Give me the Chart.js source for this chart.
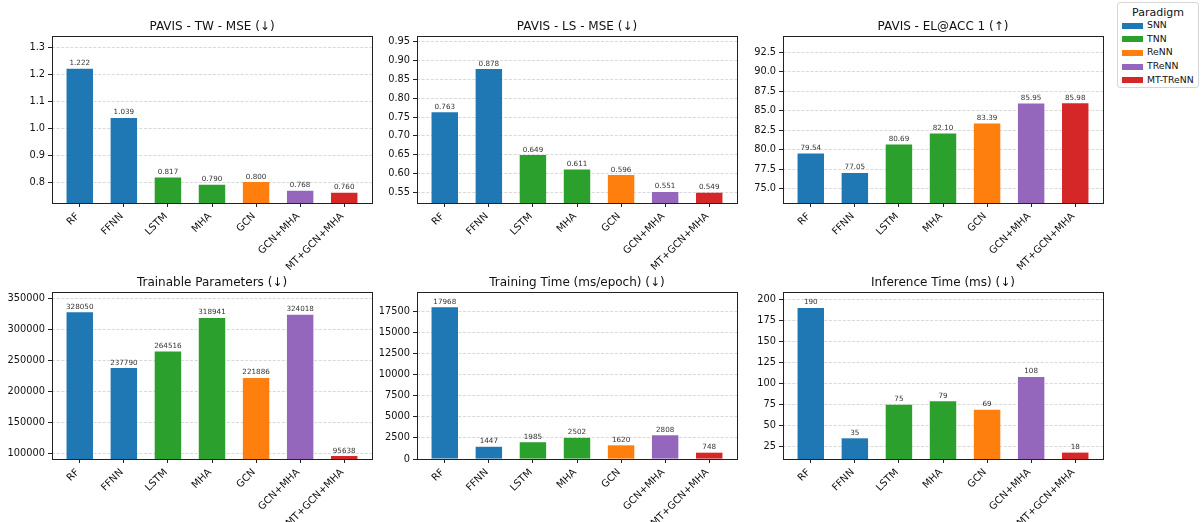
<!DOCTYPE html>
<html>
<head>
<meta charset="utf-8">
<script src="https://cdn.jsdelivr.net/npm/chart.js@4.4.1/dist/chart.umd.min.js"></script>
<style>
  body { margin: 0; background: #fff; width: 1203px; height: 522px; overflow: hidden; position: relative; font-family: 'DejaVu Sans', sans-serif; }
  canvas { position: absolute; }
  #legend { position: absolute; left: 1117px; top: 2px; width: 82px; height: 86px; border: 1px solid #d6d6d6; border-radius: 3px; box-sizing: border-box; background: #fff; }
  #legend .title { position: absolute; left: 0; width: 100%; top: 3px; text-align: center; font-size: 11px; color: #111; }
  #legend .sw { position: absolute; left: 4px; width: 21px; height: 6px; }
  #legend .lb { position: absolute; left: 29px; font-size: 9.3px; color: #111; line-height: 10px; }
</style>
</head>
<body>
<div id="legend"><div class="title">Paradigm</div></div>
<script>
// models and which paradigm each one belongs to
const models = ['RF', 'FFNN', 'LSTM', 'MHA', 'GCN', 'GCN+MHA', 'MT+GCN+MHA'];
const paradigms = ['SNN', 'TNN', 'ReNN', 'TReNN', 'MT-TReNN'];
const paradigmColors = ['#1f77b4', '#2ca02c', '#ff7f0e', '#9467bd', '#d62728'];
const modelParadigm = ['SNN', 'SNN', 'TNN', 'TNN', 'ReNN', 'TReNN', 'MT-TReNN'];

// metric values, one per model
const twMse = [1.222, 1.039, 0.817, 0.790, 0.800, 0.768, 0.760];
const lsMse = [0.763, 0.878, 0.649, 0.611, 0.596, 0.551, 0.549];
const elAcc1 = [79.54, 77.05, 80.69, 82.10, 83.39, 85.95, 85.98];
const trainableParams = [328050, 237790, 264516, 318941, 221886, 324018, 95638];
const trainingTime = [17968, 1447, 1985, 2502, 1620, 2808, 748];
const inferenceTime = [190, 35, 75, 79, 69, 108, 18];

// y tick labels
const twTicks = [0.8, 0.9, 1.0, 1.1, 1.2, 1.3];
const lsTicks = [0.55, 0.60, 0.65, 0.70, 0.75, 0.80, 0.85, 0.90, 0.95];
const elTicks = [75.0, 77.5, 80.0, 82.5, 85.0, 87.5, 90.0, 92.5];
const paramTicks = [100000, 150000, 200000, 250000, 300000, 350000];
const trainTicks = [0, 2500, 5000, 7500, 10000, 12500, 15000, 17500];
const inferTicks = [25, 50, 75, 100, 125, 150, 175, 200];

const panels = [
  { title: 'PAVIS - TW - MSE (\u2193)', values: twMse, ticks: twTicks, yMin: 0.722, yMax: 1.344, dec: 3, tickDec: 1 },
  { title: 'PAVIS - LS - MSE (\u2193)', values: lsMse, ticks: lsTicks, yMin: 0.5216, yMax: 0.9658, dec: 3, tickDec: 2 },
  { title: 'PAVIS - EL@ACC 1 (\u2191)', values: elAcc1, ticks: elTicks, yMin: 73.2, yMax: 94.58, dec: 2, tickDec: 1 },
  { title: 'Trainable Parameters (\u2193)', values: trainableParams, ticks: paramTicks, yMin: 90856, yMax: 360855, dec: 0, tickDec: 0 },
  { title: 'Training Time (ms/epoch) (\u2193)', values: trainingTime, ticks: trainTicks, yMin: 0, yMax: 19765, dec: 0, tickDec: 0 },
  { title: 'Inference Time (ms) (\u2193)', values: inferenceTime, ticks: inferTicks, yMin: 10.4, yMax: 209, dec: 0, tickDec: 0 }
];

const FONT = "'DejaVu Sans', sans-serif";
const colLeft = [52, 417, 783];
const AXIS_W = 60;
const PLOT_W = 320;

// legend
const leg = document.getElementById('legend');
paradigms.forEach((p, i) => {
  const cy = 22.5 + i * 13.7;
  const sw = document.createElement('div');
  sw.className = 'sw';
  sw.style.top = (cy - 3) + 'px';
  sw.style.background = paradigmColors[i];
  leg.appendChild(sw);
  const lb = document.createElement('div');
  lb.className = 'lb';
  lb.style.top = (cy - 5.5) + 'px';
  lb.textContent = p;
  leg.appendChild(lb);
});

function makePanel(p, i) {
  const row = Math.floor(i / 3), col = i % 3;
  const c = document.createElement('canvas');
  const h = row === 0 ? 270 : 266;
  const xH = row === 0 ? 67 : 63;
  c.width = AXIS_W + PLOT_W + 10;
  c.height = h;
  c.style.left = (colLeft[col] - AXIS_W) + 'px';
  c.style.top = (row === 0 ? 0 : 256) + 'px';
  document.body.insertBefore(c, leg);

  const extras = {
    id: 'extras' + i,
    afterDatasetsDraw(chart) {
      const a = chart.chartArea, ctx = chart.ctx;
      ctx.save();
      // value labels
      ctx.font = '7.2px ' + FONT;
      ctx.fillStyle = '#333';
      ctx.textAlign = 'center';
      ctx.textBaseline = 'alphabetic';
      chart.getDatasetMeta(0).data.forEach((bar, k) => {
        ctx.fillText(p.values[k].toFixed(p.dec), bar.x, bar.y - 3.5);
      });
      // frame
      ctx.strokeStyle = '#222';
      ctx.lineWidth = 1;
      ctx.strokeRect(Math.round(a.left) + 0.5, Math.round(a.top) + 0.5,
        Math.round(a.right - a.left), Math.round(a.bottom - a.top));
      // title
      ctx.font = '12px ' + FONT;
      ctx.fillStyle = '#111';
      ctx.fillText(p.title, (a.left + a.right) / 2, a.top - 6);
      ctx.restore();
    }
  };

  new Chart(c, {
    type: 'bar',
    data: {
      datasets: [{
        data: p.values.map((v, k) => ({ x: k, y: v })),
        backgroundColor: modelParadigm.map(m => paradigmColors[paradigms.indexOf(m)]),
        barPercentage: 0.6,
        categoryPercentage: 1
      }]
    },
    options: {
      responsive: false,
      animation: false,
      layout: { padding: { top: 36, right: 10, left: 0, bottom: 0 } },
      plugins: { legend: { display: false }, tooltip: { enabled: false } },
      scales: {
        x: {
          type: 'linear', min: -0.63, max: 6.63, offset: false,
          afterBuildTicks: s => { s.ticks = models.map((m, k) => ({ value: k })); },
          afterFit: s => { s.height = xH; },
          ticks: {
            callback: v => models[v], minRotation: 45, maxRotation: 45, autoSkip: false,
            color: '#111', font: { family: FONT, size: 10 }, padding: 3.5, labelOffset: -2
          },
          grid: { offset: false, drawOnChartArea: false, tickLength: 4, tickColor: '#222', tickWidth: 1 },
          border: { display: false }
        },
        y: {
          min: p.yMin, max: p.yMax, beginAtZero: false,
          afterBuildTicks: s => { s.ticks = p.ticks.map(v => ({ value: v })); },
          afterFit: s => { s.width = AXIS_W; },
          ticks: {
            callback: v => v.toFixed(p.tickDec),
            color: '#111', font: { family: FONT, size: 9.8 }, padding: 3
          },
          grid: { color: '#cfcfcf', lineWidth: 0.8, tickLength: 4, tickColor: '#222', tickWidth: 1, tickBorderDash: [] },
          border: { display: false, dash: [3, 1.6] }
        }
      }
    },
    plugins: [extras]
  });
}

panels.forEach(makePanel);
</script>
</body>
</html>
